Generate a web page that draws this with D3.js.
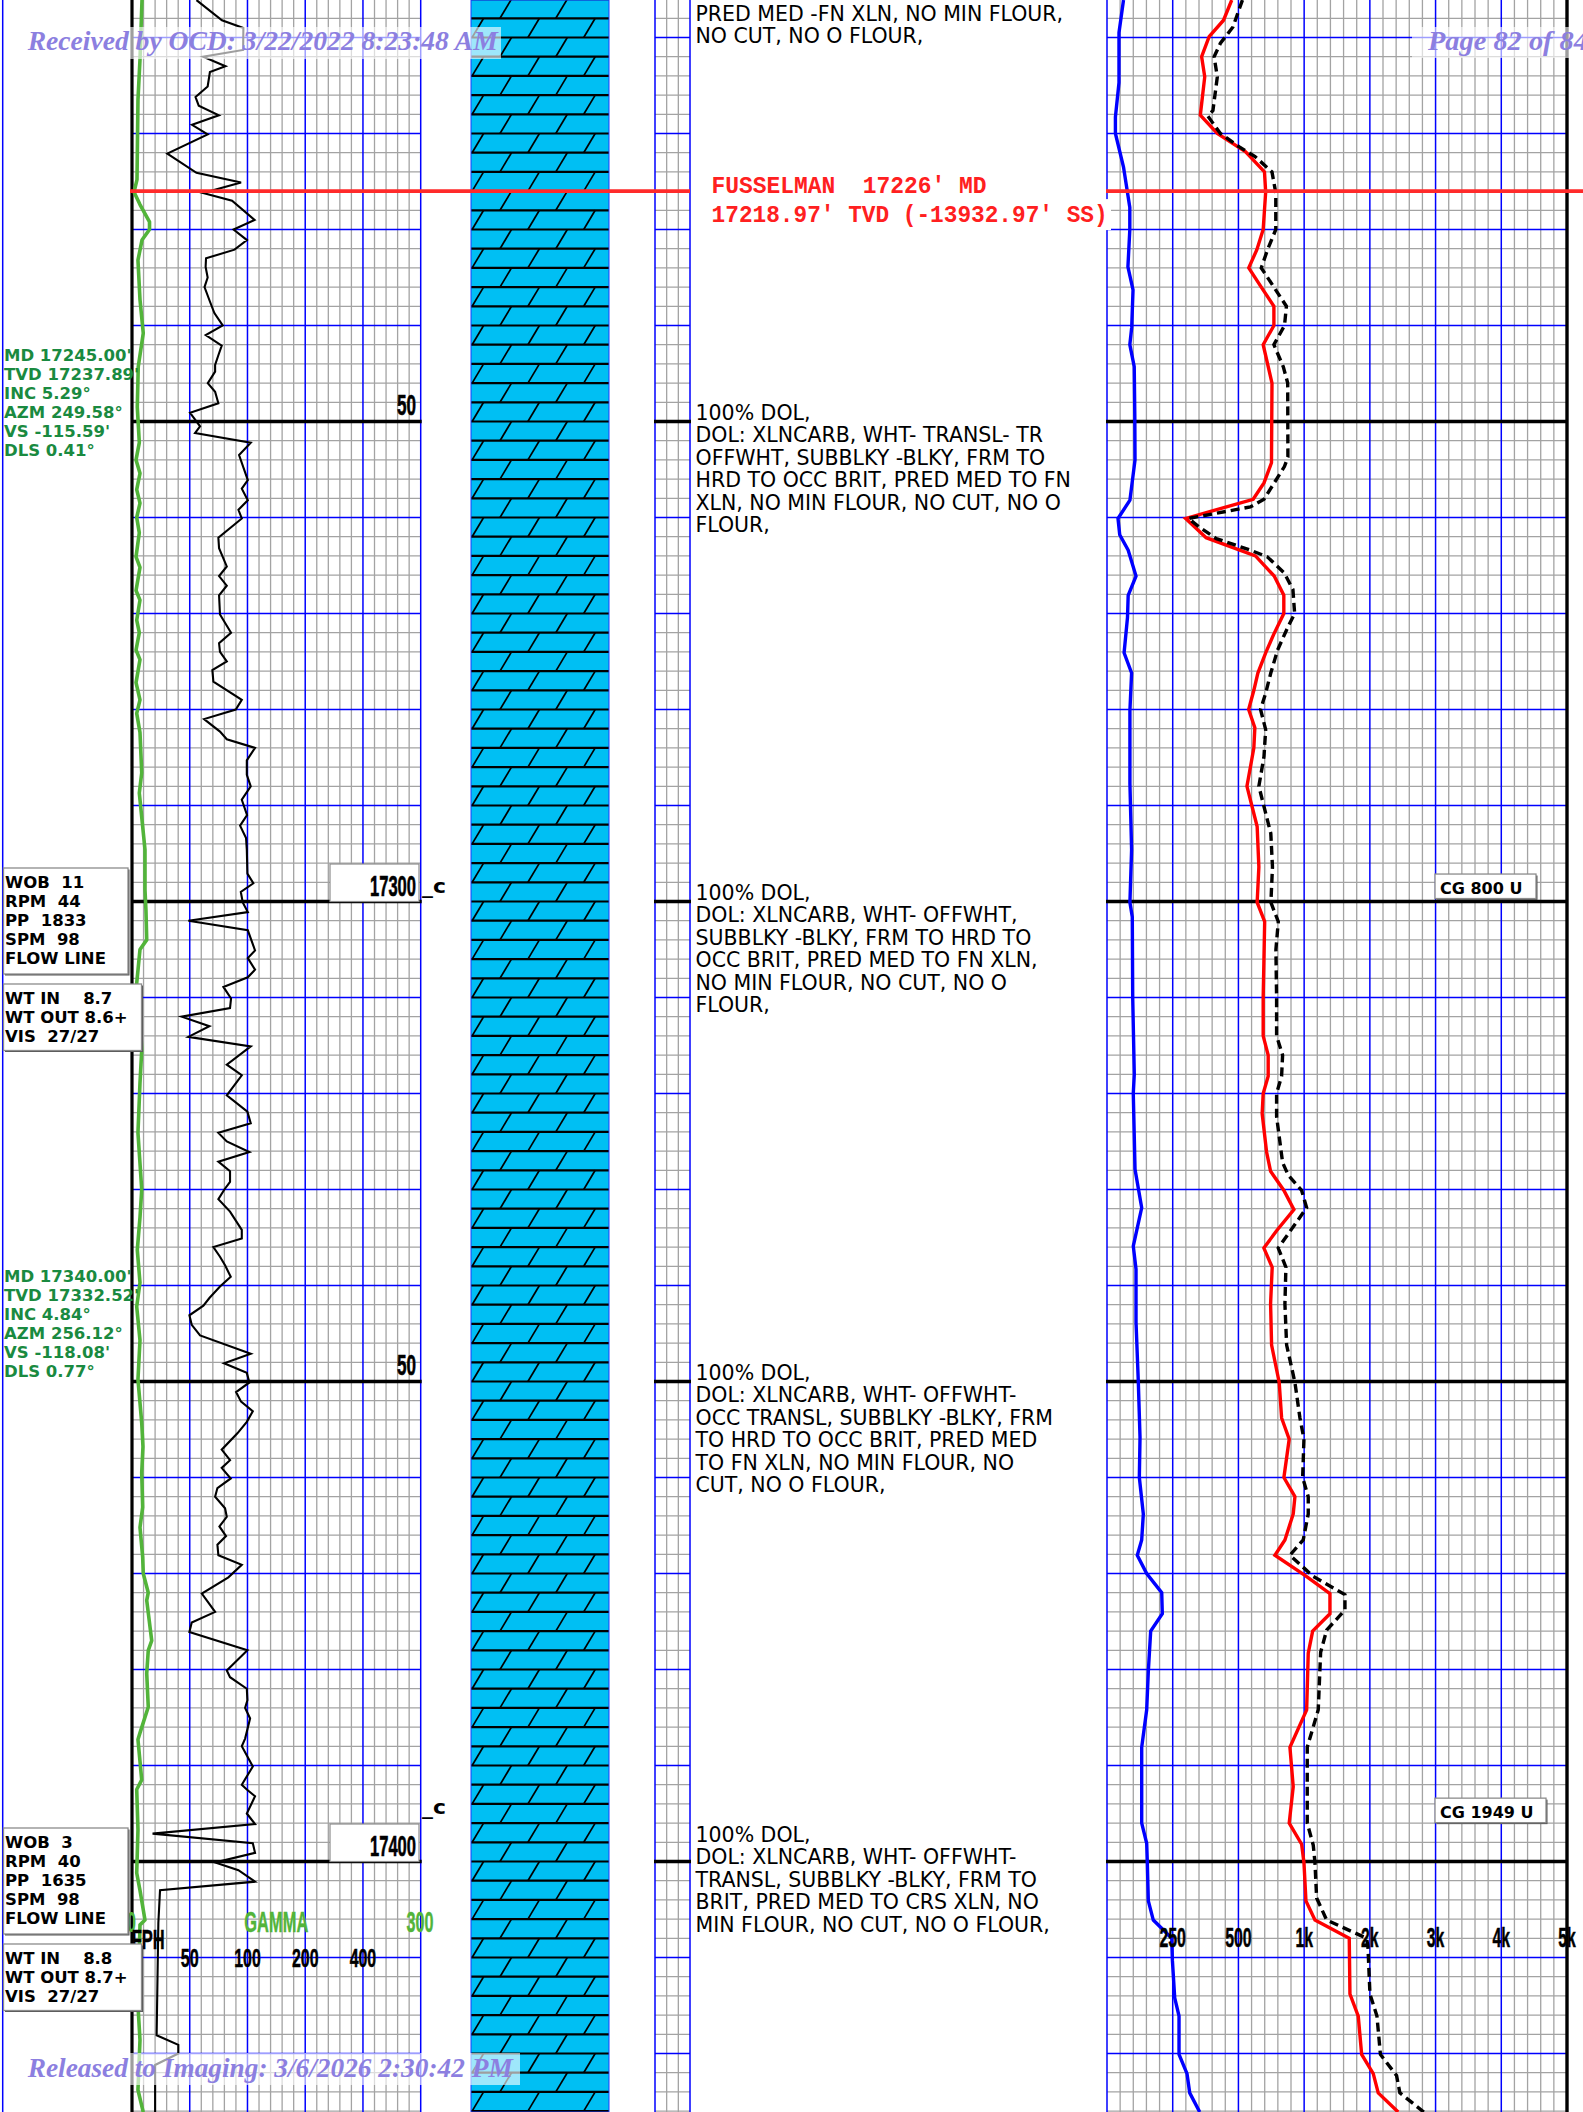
<!DOCTYPE html>
<html><head><meta charset="utf-8">
<script src="https://cdn.jsdelivr.net/npm/d3@7/dist/d3.min.js"></script>
<style>
html,body{margin:0;padding:0;background:#fff;}
svg{display:block;}
</style></head><body>
<svg id="chart" width="1583" height="2112"></svg>
<script>
// ---------------- DATA ----------------
const ropData = [
[17206.1,54.2],[17208.2,73.6],[17209.0,95.2],[17211.3,94.9],[17212.0,58.7],[17213.0,76.8],[17213.6,63.7],[17215.1,62.0],[17216.2,53.6],[17217.1,55.7],[17218.1,70.9],[17219.1,51.4],[17220.1,62.0],[17222.1,38.2],[17224.1,54.2],[17225.1,92.6],[17226.2,58.7],[17227.0,83.1],[17229.0,108.9],[17230.0,84.6],[17231.1,99.4],[17232.1,85.6],[17233.0,60.8],[17233.9,60.5],[17235.0,62.0],[17236.0,59.7],[17237.5,63.7],[17238.7,67.2],[17240.0,74.3],[17241.0,60.6],[17242.1,73.4],[17243.1,70.5],[17244.1,67.8],[17244.8,67.8],[17246.0,62.1],[17246.9,67.8],[17248.1,70.5],[17249.1,50.2],[17250.5,56.6],[17251.2,53.3],[17252.2,104.0],[17253.5,90.4],[17256.1,100.4],[17257.0,93.4],[17258.2,100.4],[17259.2,89.7],[17260.1,93.4],[17262.1,70.5],[17263.2,71.1],[17265.1,78.0],[17266.1,71.1],[17267.1,78.0],[17268.1,71.1],[17270.1,71.9],[17272.0,82.1],[17273.1,71.1],[17274.0,71.9],[17275.0,78.0],[17275.9,65.6],[17277.1,66.4],[17279.0,93.4],[17280.0,86.9],[17281.0,59.4],[17282.3,71.9],[17283.1,78.0],[17284.0,109.5],[17285.3,99.2],[17286.8,99.2],[17288.0,104.0],[17289.4,93.4],[17291.0,99.5],[17292.1,91.5],[17293.4,98.3],[17294.6,99.2],[17297.1,99.9],[17298.1,107.3],[17299.0,92.3],[17300.1,94.5],[17301.1,100.4],[17302.0,49.2],[17303.0,100.4],[17305.1,109.5],[17305.9,100.4],[17307.1,109.5],[17307.9,100.4],[17308.9,74.9],[17310.1,82.1],[17311.1,81.1],[17312.0,45.4],[17313.0,63.3],[17314.1,49.2],[17315.1,104.0],[17317.0,78.0],[17318.1,93.4],[17320.2,78.0],[17321.9,99.9],[17323.1,104.0],[17324.1,70.5],[17325.0,78.0],[17326.1,102.3],[17327.1,70.5],[17328.1,81.1],[17329.2,81.1],[17330.0,75.8],[17331.0,70.5],[17332.3,81.1],[17334.2,93.4],[17335.1,93.4],[17336.0,66.4],[17337.0,71.9],[17337.9,76.4],[17339.1,81.8],[17340.1,71.9],[17341.3,63.3],[17342.1,58.9],[17343.1,49.8],[17344.1,51.2],[17345.2,56.6],[17347.1,104.0],[17348.1,75.5],[17349.1,99.2],[17350.1,102.3],[17351.1,87.2],[17352.1,92.6],[17353.1,106.6],[17354.2,99.2],[17355.4,88.6],[17357.1,73.4],[17358.2,81.1],[17359.0,73.4],[17360.1,81.8],[17361.1,69.7],[17362.0,67.8],[17363.2,76.4],[17364.1,78.0],[17365.1,71.4],[17366.1,77.3],[17367.0,69.7],[17368.1,70.5],[17369.1,93.4],[17370.4,79.5],[17372.1,57.8],[17374.0,67.8],[17375.1,51.2],[17376.1,49.8],[17378.0,99.9],[17380.1,78.0],[17380.8,81.1],[17382.0,99.2],[17383.2,99.9],[17384.0,97.2],[17385.1,103.2],[17387.2,97.2],[17388.0,93.4],[17390.1,106.6],[17392.0,93.4],[17392.5,99.2],[17393.2,109.5],[17395.0,99.2],[17396.1,109.5],[17397.1,32.0],[17398.1,106.6],[17399.1,109.5],[17400.1,67.8],[17400.9,89.7],[17402.1,109.5],[17403.0,35.0],[17406.4,34.3],[17418.1,33.6],[17419.1,43.6],[17420.0,43.6],[17421.2,33.0],[17426.1,33.0]
];
const gammaData = [
[17206.1,10.4],[17212.3,8.3],[17216.5,6.2],[17224.8,5.2],[17226.1,2.1],[17227.4,8.3],[17229.2,18.2],[17230.0,18.2],[17231.1,10.4],[17233.2,6.2],[17237.3,8.3],[17240.8,11.7],[17244.3,6.5],[17248.5,5.5],[17252.2,7.6],[17254.0,4.2],[17255.4,8.3],[17257.1,4.9],[17258.5,8.3],[17260.0,4.9],[17261.6,7.6],[17264.1,4.2],[17265.2,8.3],[17267.6,4.2],[17268.6,8.3],[17270.7,4.9],[17272.0,7.6],[17273.8,4.2],[17274.8,8.3],[17277.2,4.2],[17279.0,8.3],[17280.4,4.9],[17282.4,8.3],[17286.6,10.1],[17288.7,7.6],[17294.6,13.5],[17298.8,13.5],[17300.9,14.5],[17304.0,15.3],[17305.0,8.3],[17308.5,4.9],[17312.0,8.3],[17315.5,10.1],[17318.9,8.3],[17324.1,6.2],[17330.0,10.1],[17332.9,8.3],[17336.3,5.5],[17339.7,8.3],[17342.2,4.9],[17345.7,8.3],[17349.8,6.2],[17354.3,10.1],[17356.8,11.4],[17359.5,10.1],[17363.1,11.1],[17365.2,8.3],[17368.3,11.1],[17370.0,11.7],[17372.0,16.9],[17372.8,15.3],[17377.0,20.5],[17378.0,16.9],[17380.4,15.3],[17383.9,16.9],[17386.6,8.3],[17387.3,6.2],[17391.5,10.1],[17392.5,4.9],[17396.7,6.2],[17401.2,4.9],[17403.0,8.3],[17406.1,13.5],[17406.6,8.3],[17415.0,6.2],[17418.6,8.3],[17423.8,6.2],[17426.1,11.7]
];
const gasBlue = [
[17206.1,156.4],[17209.5,147.8],[17214.7,147.8],[17218.3,141.0],[17220.0,141.0],[17223.5,156.4],[17227.7,168.4],[17230.0,168.4],[17233.9,164.8],[17236.3,174.5],[17240.2,172.0],[17242.0,168.4],[17244.3,176.8],[17249.5,177.9],[17254.0,178.3],[17258.2,168.6],[17260.1,145.9],[17261.8,149.2],[17263.4,165.3],[17266.1,180.2],[17268.1,165.3],[17270.4,164.0],[17274.1,157.5],[17276.2,171.8],[17280.1,168.6],[17287.7,168.6],[17294.6,171.8],[17300.1,168.6],[17301.6,173.1],[17310.0,173.9],[17318.0,176.9],[17320.0,175.0],[17327.9,178.3],[17331.9,191.0],[17335.9,175.0],[17338.3,180.2],[17343.8,180.2],[17350.1,184.6],[17355.8,187.8],[17360.0,186.5],[17363.8,194.1],[17366.5,191.0],[17368.1,182.6],[17370.0,200.5],[17372.0,229.1],[17374.2,230.2],[17376.0,208.1],[17380.2,203.6],[17384.2,200.5],[17388.1,191.0],[17396.0,191.0],[17398.1,200.5],[17400.1,201.7],[17404.1,203.6],[17406.1,213.1],[17408.0,248.1],[17410.3,249.4],[17414.2,257.6],[17416.1,274.0],[17420.1,274.0],[17422.1,304.4],[17424.1,314.7],[17426.1,352.7]
];
const gasRed = [
[17206.1,474.5],[17208.2,443.3],[17209.9,388.5],[17212.0,360.0],[17214.1,371.8],[17218.1,355.0],[17220.0,419.7],[17221.9,554.9],[17224.0,698.2],[17226.1,707.3],[17230.0,688.3],[17232.1,640.2],[17234.0,578.5],[17236.0,673.8],[17238.0,769.8],[17240.0,769.8],[17242.0,688.3],[17246.0,755.3],[17254.3,751.5],[17256.4,694.4],[17258.1,612.0],[17260.1,299.5],[17262.1,377.1],[17264.0,629.6],[17266.1,772.1],[17268.1,845.3],[17270.0,845.3],[17272.2,767.5],[17274.1,707.3],[17276.2,647.9],[17278.0,617.4],[17280.0,577.7],[17281.9,625.0],[17284.0,617.4],[17288.0,564.8],[17290.1,603.7],[17292.2,642.5],[17296.4,655.5],[17300.1,642.5],[17302.1,699.7],[17306.4,693.6],[17310.0,688.3],[17314.0,688.3],[17316.0,726.4],[17318.2,726.4],[17320.0,688.3],[17322.1,680.6],[17326.1,714.2],[17328.1,744.7],[17330.1,846.0],[17332.1,922.3],[17334.3,790.4],[17336.1,693.6],[17338.1,756.9],[17341.9,744.7],[17346.2,752.3],[17350.1,810.2],[17353.8,828.5],[17356.0,886.4],[17360.0,846.0],[17362.0,929.9],[17363.8,916.9],[17366.5,853.7],[17368.1,777.4],[17370.2,1012.2],[17372.1,1392.7],[17374.2,1392.7],[17376.0,1129.4],[17378.3,1062.4],[17384.2,1038.1],[17388.1,891.8],[17392.2,916.9],[17396.0,886.4],[17398.2,980.9],[17400.1,998.5],[17404.1,1027.4],[17406.1,1164.4],[17408.0,1686.4],[17413.8,1697.0],[17416.1,1823.4],[17420.1,1875.1],[17422.1,2051.6],[17424.1,2127.4],[17426.1,2430.8]
];
const gasDashed = [
[17206.1,530.5],[17208.9,479.1],[17210.6,431.5],[17212.0,407.5],[17214.1,419.7],[17217.6,403.0],[17218.2,383.9],[17220.0,431.5],[17221.4,506.9],[17222.4,626.5],[17224.0,755.3],[17226.2,784.3],[17230.0,784.3],[17232.1,721.8],[17234.0,673.8],[17236.0,769.8],[17238.0,865.1],[17240.0,850.6],[17242.0,769.8],[17244.3,841.5],[17246.0,875.0],[17253.7,876.5],[17254.7,849.9],[17256.4,772.1],[17258.1,694.4],[17258.9,590.7],[17260.1,309.7],[17261.0,351.2],[17262.2,415.9],[17263.4,590.7],[17264.1,720.3],[17265.8,849.9],[17267.5,914.6],[17270.0,927.6],[17271.4,876.5],[17273.8,798.0],[17276.2,746.2],[17278.3,707.3],[17280.0,668.4],[17282.1,707.3],[17284.9,694.4],[17288.0,655.5],[17290.1,694.4],[17292.9,746.2],[17296.4,759.1],[17300.1,746.9],[17302.1,803.4],[17305.0,785.1],[17310.0,790.4],[17314.0,790.4],[17316.0,836.1],[17318.2,828.5],[17320.0,790.4],[17322.4,790.4],[17327.2,836.1],[17328.5,878.8],[17330.1,980.9],[17331.9,1038.1],[17336.1,803.0],[17338.1,861.3],[17341.9,853.7],[17346.2,866.7],[17350.1,929.9],[17353.8,968.0],[17356.0,998.5],[17360.0,988.6],[17362.0,1062.4],[17363.8,1062.4],[17366.5,993.1],[17368.1,891.8],[17370.3,1138.5],[17372.2,1621.0],[17373.8,1621.0],[17375.9,1342.5],[17378.2,1251.1],[17384.2,1214.6],[17388.1,1047.2],[17396.0,1047.2],[17398.3,1138.5],[17400.1,1164.4],[17403.8,1190.3],[17406.1,1342.5],[17408.0,1951.3],[17408.9,1971.0],[17413.8,2001.5],[17416.1,2107.7],[17420.1,2160.8],[17422.3,2406.6],[17424.1,2456.6],[17426.1,2820.7]
];
const lithology = [{top:17200, base:17430, rock:"DOL"}];
const ropTicks = [50,100,200,400];
const ropTickLabels = ["50","100","200","400"];
const gasTicks = [250,500,1000,2000,3000,4000,5000];
const gasTickLabels = ["250","500","1k","2k","3k","4k","5k"];
const gasDomain = [125,250,500,1000,2000,3000,4000,5000];
const depthLabels = [
  {depth:17250, text:"50", boxed:false},
  {depth:17300, text:"17300", boxed:true},
  {depth:17350, text:"50", boxed:false},
  {depth:17400, text:"17400", boxed:true}
];
const cMarks = [17299.0, 17394.95];
const descriptions = [
  {depth:17208.23, lines:["PRED MED -FN XLN, NO MIN FLOUR,","NO CUT, NO O FLOUR,"]},
  {depth:17249.85, lines:["100% DOL,","DOL: XLNCARB, WHT- TRANSL- TR","OFFWHT, SUBBLKY -BLKY, FRM TO","HRD TO OCC BRIT, PRED MED TO FN","XLN, NO MIN FLOUR, NO CUT, NO O","FLOUR,"]},
  {depth:17299.85, lines:["100% DOL,","DOL: XLNCARB, WHT- OFFWHT,","SUBBLKY -BLKY, FRM TO HRD TO","OCC BRIT, PRED MED TO FN XLN,","NO MIN FLOUR, NO CUT, NO O","FLOUR,"]},
  {depth:17349.85, lines:["100% DOL,","DOL: XLNCARB, WHT- OFFWHT-","OCC TRANSL, SUBBLKY -BLKY, FRM","TO HRD TO OCC BRIT, PRED MED","TO FN XLN, NO MIN FLOUR, NO","CUT, NO O FLOUR,"]},
  {depth:17397.97, lines:["100% DOL,","DOL: XLNCARB, WHT- OFFWHT-","TRANSL, SUBBLKY -BLKY, FRM TO","BRIT, PRED MED TO CRS XLN, NO","MIN FLOUR, NO CUT, NO O FLOUR,"]}
];
const surveys = [
  {depth:17243.66, lines:["MD 17245.00'","TVD 17237.89'","INC 5.29°","AZM 249.58°","VS -115.59'","DLS 0.41°"]},
  {depth:17339.6, lines:["MD 17340.00'","TVD 17332.52'","INC 4.84°","AZM 256.12°","VS -118.08'","DLS 0.77°"]}
];
const drillParams = [
  {depth:17300, lines:["WOB  11","RPM  44","PP  1833","SPM  98","FLOW LINE"], mud:["WT IN    8.7","WT OUT 8.6+","VIS  27/27"]},
  {depth:17400, lines:["WOB  3","RPM  40","PP  1635","SPM  98","FLOW LINE"], mud:["WT IN    8.8","WT OUT 8.7+","VIS  27/27"]}
];
const cgLabels = [{depth:17297.14, text:"CG 800 U"},{depth:17393.4, text:"CG 1949 U"}];
const formation = {name:"FUSSELMAN", md:17226, tvd:"17218.97'", ss:"-13932.97'"};
const watermarks = ["Received by OCD: 3/22/2022 8:23:48 AM","Page 82 of 84","Released to Imaging: 3/6/2026 2:30:42 PM"];

// ---------------- LAYOUT ----------------
const W=1583, H=2112;
const svg = d3.select("#chart");
svg.append("rect").attr("width",W).attr("height",H).attr("fill","#fff");
const yDepth = d3.scaleLinear().domain([17300,17400]).range([901.5,1861.5]);
const dTop = yDepth.invert(0), dBot = yDepth.invert(H);
const gridDepths = d3.range(Math.floor(dTop/2)*2, dBot+2, 2);

const T1 = {x0:132, x1:420.7, n:25, major:5};
const T3 = {x0:655, x1:690, n:3, major:3};
const TG = {x0:1107, x1:1567, n:35, major:5};
const LITH = {x0:471, x1:609};

const xRop = d3.scaleLog().base(2).domain([25,800]).range([T1.x0,T1.x1]);
const xGamma = d3.scaleLinear().domain([0,300]).range([T1.x0,T1.x1]);
const xGas = d3.scaleLinear().domain(gasDomain).range(gasDomain.map((d,i)=>TG.x0+i*(TG.x1-TG.x0)/7));

const BLUE="#0000ff", GRAY="#a3a3a3", GREEN="#52b43a";
const NARROW = "Liberation Sans Narrow, Arial Narrow, Liberation Sans, Arial, sans-serif";

// left border
svg.append("line").attr("x1",2.7).attr("x2",2.7).attr("y1",0).attr("y2",H).attr("stroke",BLUE).attr("stroke-width",1.5);

function drawGrid(t){
  const g = svg.append("g");
  const xs = d3.scaleLinear().domain([0,t.n]).range([t.x0,t.x1]);
  const idx = d3.range(0,t.n+1);
  g.selectAll("line.hg").data(gridDepths.filter(d=>d%10!==0)).join("line")
    .attr("x1",t.x0).attr("x2",t.x1).attr("y1",d=>yDepth(d)).attr("y2",d=>yDepth(d))
    .attr("stroke",GRAY).attr("stroke-width",1.3);
  g.selectAll("line.vg").data(idx.filter(i=>i%t.major!==0)).join("line")
    .attr("x1",d=>xs(d)).attr("x2",d=>xs(d)).attr("y1",0).attr("y2",H)
    .attr("stroke",GRAY).attr("stroke-width",1.3);
  g.selectAll("line.hb").data(gridDepths.filter(d=>d%10===0 && d%50!==0)).join("line")
    .attr("x1",t.x0).attr("x2",t.x1).attr("y1",d=>yDepth(d)).attr("y2",d=>yDepth(d))
    .attr("stroke",BLUE).attr("stroke-width",1.5);
  g.selectAll("line.vb").data(idx.filter(i=>i%t.major===0)).join("line")
    .attr("x1",d=>xs(d)).attr("x2",d=>xs(d)).attr("y1",0).attr("y2",H)
    .attr("stroke",BLUE).attr("stroke-width",1.5);
  g.selectAll("line.hk").data(gridDepths.filter(d=>d%50===0)).join("line")
    .attr("x1",t.x0-1).attr("x2",t.x1+1).attr("y1",d=>yDepth(d)).attr("y2",d=>yDepth(d))
    .attr("stroke","#000").attr("stroke-width",3.6);
}
drawGrid(T1); drawGrid(T3); drawGrid(TG);
svg.append("line").attr("x1",T1.x0).attr("x2",T1.x0).attr("y1",0).attr("y2",H).attr("stroke","#000").attr("stroke-width",3.2);
svg.append("line").attr("x1",TG.x1).attr("x2",TG.x1).attr("y1",0).attr("y2",H).attr("stroke","#000").attr("stroke-width",3.4);

// lithology
const defs = svg.append("defs");
defs.append("clipPath").attr("id","lithClip").append("rect")
  .attr("x",LITH.x0).attr("y",0).attr("width",LITH.x1-LITH.x0).attr("height",H);
defs.append("clipPath").attr("id","t1Clip").append("rect")
  .attr("x",T1.x0).attr("y",0).attr("width",T1.x1-T1.x0+2).attr("height",H);
defs.append("clipPath").attr("id","gasClip").append("rect")
  .attr("x",TG.x0).attr("y",0).attr("width",TG.x1-TG.x0).attr("height",H);
const lg = svg.append("g").attr("clip-path","url(#lithClip)");
lithology.forEach(l=>{
  const y0=Math.max(0,yDepth(l.top)), y1=Math.min(H,yDepth(l.base));
  lg.append("rect").attr("x",LITH.x0).attr("y",y0).attr("width",LITH.x1-LITH.x0).attr("height",y1-y0).attr("fill","#00bff3");
  const rows = d3.range(Math.ceil(l.top/2)*2, l.base, 2);
  const brick = 55.8;
  rows.forEach(d=>{
    const yt=yDepth(d), yb=yDepth(d+2);
    lg.append("line").attr("x1",LITH.x0).attr("x2",LITH.x1).attr("y1",yt).attr("y2",yt).attr("stroke","#000").attr("stroke-width",2.2);
    const off = (((d%4)+4)%4===2) ? 29 : 1.1;
    for(let x=LITH.x0+off-brick; x<LITH.x1+brick; x+=brick){
      lg.append("line").attr("x1",x).attr("y1",yb).attr("x2",x+11.5).attr("y2",yt).attr("stroke","#000").attr("stroke-width",1.7);
    }
  });
});
svg.append("rect").attr("x",LITH.x0).attr("y",0).attr("width",LITH.x1-LITH.x0).attr("height",H)
  .attr("fill","none").attr("stroke","#1a3cff").attr("stroke-width",1);

// curves
const cg1 = svg.append("g").attr("clip-path","url(#t1Clip)");
cg1.append("path").datum(gammaData)
  .attr("d",d3.line().x(d=>xGamma(d[1])).y(d=>yDepth(d[0])))
  .attr("fill","none").attr("stroke",GREEN).attr("stroke-width",3.6).attr("stroke-linejoin","round");
cg1.append("path").datum(ropData)
  .attr("d",d3.line().x(d=>xRop(d[1])).y(d=>yDepth(d[0])))
  .attr("fill","none").attr("stroke","#000").attr("stroke-width",2.1).attr("stroke-linejoin","miter");

const cgg = svg.append("g").attr("clip-path","url(#gasClip)");
cgg.append("path").datum(gasBlue)
  .attr("d",d3.line().x(d=>xGas(d[1])).y(d=>yDepth(d[0])))
  .attr("fill","none").attr("stroke","#0000ff").attr("stroke-width",3.4);
cgg.append("path").datum(gasRed)
  .attr("d",d3.line().x(d=>xGas(d[1])).y(d=>yDepth(d[0])))
  .attr("fill","none").attr("stroke","#ff0000").attr("stroke-width",3.4);
cgg.append("path").datum(gasDashed)
  .attr("d",d3.line().x(d=>xGas(d[1])).y(d=>yDepth(d[0])))
  .attr("fill","none").attr("stroke","#000").attr("stroke-width",3.4).attr("stroke-dasharray","9,5");

// helpers
function fitText(g, x, y, s, o){
  const t = g.append("text").attr("x",x).attr("y",y).text(s)
    .attr("font-family",o.family||NARROW)
    .attr("font-size",o.size).attr("font-weight",o.weight||"normal")
    .attr("fill",o.fill||"#000");
  if(o.anchor) t.attr("text-anchor",o.anchor);
  if(o.len){ t.attr("textLength",o.len).attr("lengthAdjust","spacingAndGlyphs"); }
  if(o.style) t.attr("font-style",o.style);
  if(o.pre) t.style("white-space","pre");
  if(o.stroke) t.attr("stroke",o.fill||"#000").attr("stroke-width",o.stroke);
  return t;
}
function shadowBox(g,x,y,w,h){
  g.append("rect").attr("x",x+1.5).attr("y",y+1.5).attr("width",w).attr("height",h).attr("fill","#555");
  g.append("rect").attr("x",x).attr("y",y).attr("width",w).attr("height",h).attr("fill","#fff").attr("stroke","#8c8c8c").attr("stroke-width",1.3);
}
const tg = svg.append("g");

// depth labels
depthLabels.forEach(l=>{
  const y=yDepth(l.depth);
  if(l.boxed){
    tg.append("rect").attr("x",330).attr("y",y-37.5).attr("width",89).attr("height",37.5)
      .attr("fill","#fff").attr("stroke","#8c8c8c").attr("stroke-width",1.2);
    fitText(tg, 416-46, y-6, l.text, {size:30, weight:"bold", len:46, stroke:0.6});
  } else {
    fitText(tg, 416-19, y-6.5, l.text, {size:30, weight:"bold", len:19, stroke:0.6});
  }
});
cMarks.forEach(d=>{
  fitText(tg, 422, yDepth(d)+1, "_c", {size:19, weight:"bold", family:"DejaVu Sans, sans-serif", len:24});
});

// scale headers (track 1)
const hdrY = yDepth(17400) + 70.5;
fitText(tg, 127, hdrY, "0", {size:29, weight:"bold", fill:GREEN, len:9});
fitText(tg, 244.3, hdrY, "GAMMA", {size:29, weight:"bold", fill:GREEN, len:64, stroke:0.4});
fitText(tg, 406.5, hdrY, "300", {size:29, weight:"bold", fill:GREEN, len:27, stroke:0.4});
fitText(tg, 131.7, hdrY+16.5, "FPH", {size:28, weight:"bold", len:33, stroke:0.5});
ropTicks.forEach((v,i)=>{
  const w = ropTickLabels[i].length===2 ? 18 : 26.5;
  fitText(tg, xRop(v)-w/2, hdrY+35, ropTickLabels[i], {size:26, weight:"bold", len:w, stroke:0.5});
});
// gas headers
gasTicks.forEach((v,i)=>{
  const w = gasTickLabels[i].length===3 ? 26.5 : 17.5;
  fitText(tg, xGas(v)-w/2, hdrY+15, gasTickLabels[i], {size:28, weight:"bold", len:w, stroke:0.5});
});

// descriptions
descriptions.forEach(b=>{
  const y0 = yDepth(b.depth);
  b.lines.forEach((s,i)=>{
    fitText(tg, 695.5, y0+i*22.4, s, {size:20.5, family:"DejaVu Sans, Verdana, sans-serif"});
  });
});

// surveys
surveys.forEach(b=>{
  const y0 = yDepth(b.depth);
  b.lines.forEach((s,i)=>{
    fitText(tg, 4, y0+i*19, s, {size:16.5, weight:"bold", family:"DejaVu Sans, sans-serif", fill:"#1a8a40"});
  });
});

// drilling parameter boxes
drillParams.forEach(b=>{
  const y=yDepth(b.depth);
  shadowBox(tg, 3.5, y-33.5, 124.5, 106);
  b.lines.forEach((s,i)=>fitText(tg, 5, y-13.5+i*19, s, {size:16.5, weight:"bold", family:"DejaVu Sans, sans-serif", pre:true}));
  shadowBox(tg, 3.5, y+82.5, 138, 66.5);
  b.mud.forEach((s,i)=>fitText(tg, 5, y+102.5+i*19, s, {size:16.5, weight:"bold", family:"DejaVu Sans, sans-serif", pre:true}));
});

// CG labels
cgLabels.forEach(c=>{
  const y=yDepth(c.depth);
  const w = c.text.length>8 ? 111 : 101;
  shadowBox(tg, 1435, y, w, 24.5);
  fitText(tg, 1440, y+19.5, c.text, {size:16, weight:"bold", family:"DejaVu Sans, sans-serif"});
});

// formation top
const fy = yDepth(formation.md);
tg.append("line").attr("x1",130).attr("x2",690).attr("y1",fy).attr("y2",fy).attr("stroke","#ff2a2a").attr("stroke-width",3.6);
tg.append("line").attr("x1",1106).attr("x2",W).attr("y1",fy).attr("y2",fy).attr("stroke","#ff2a2a").attr("stroke-width",3.6);
tg.append("rect").attr("x",706).attr("y",fy+8).attr("width",405).attr("height",31).attr("fill","#fff");
fitText(tg, 711.6, fy+2, formation.name+"  "+formation.md+"' MD", {size:23, weight:"bold", family:"Liberation Mono, Courier New, monospace", fill:"#ff2020", pre:true, len:275});
fitText(tg, 711.6, fy+30.5, formation.tvd+" TVD ("+formation.ss+" SS)", {size:23, weight:"bold", family:"Liberation Mono, Courier New, monospace", fill:"#ff2020", pre:true, len:396});

// watermarks
const wm = svg.append("g");
wm.append("rect").attr("x",20).attr("y",27).attr("width",481).attr("height",32).attr("fill","#fff").attr("opacity",0.62);
fitText(wm, 27.7, 50, watermarks[0], {size:27, weight:"bold", style:"italic", family:"Liberation Serif, Times New Roman, serif", fill:"#8c7fe0", len:470});
wm.append("rect").attr("x",1412).attr("y",27).attr("width",171).attr("height",31).attr("fill","#fff").attr("opacity",0.62);
fitText(wm, 1428, 50, watermarks[1], {size:27, weight:"bold", style:"italic", family:"Liberation Serif, Times New Roman, serif", fill:"#8c7fe0", len:160});
wm.append("rect").attr("x",20).attr("y",2053).attr("width",500).attr("height",32).attr("fill","#fff").attr("opacity",0.62);
fitText(wm, 27.7, 2077, watermarks[2], {size:27, weight:"bold", style:"italic", family:"Liberation Serif, Times New Roman, serif", fill:"#8c7fe0", len:485});
</script>
</body></html>
